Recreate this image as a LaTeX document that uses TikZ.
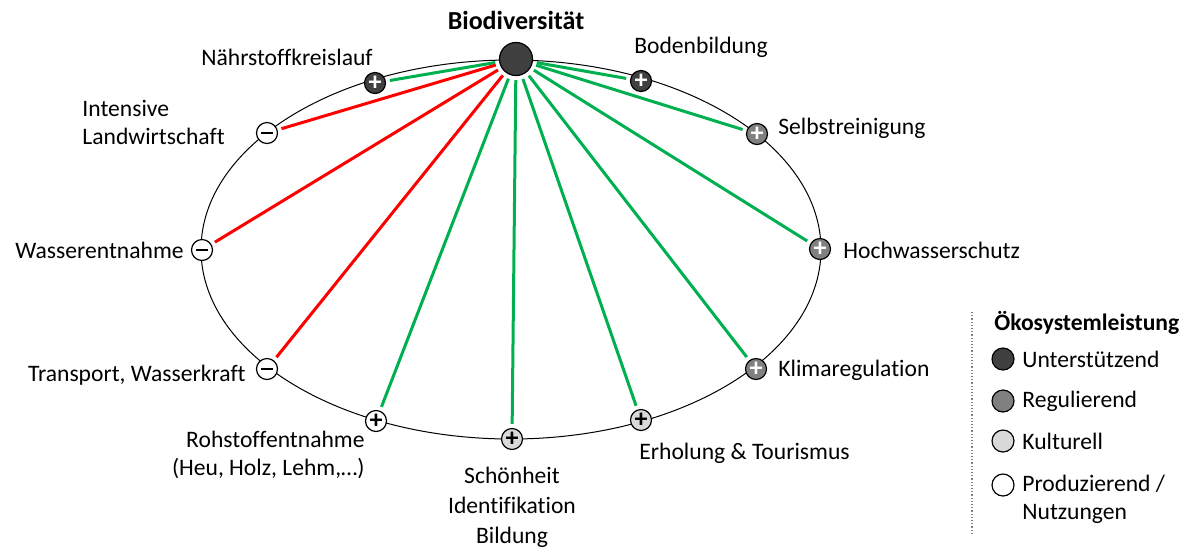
\documentclass[tikz,border=0pt]{standalone}
\usepackage{fontspec}
\setmainfont{Carlito}[Ligatures=NoCommon]
\begin{document}
\begin{tikzpicture}[x=0.5pt,y=-0.5pt,font=\fontsize{11.8}{14}\selectfont]
%Define all colors here.

\definecolor{supfill}{RGB}{64,64,64}
\definecolor{regfill}{RGB}{128,128,128}
\definecolor{kulfill}{RGB}{217,217,217}
\definecolor{profill}{RGB}{255,255,255}
\definecolor{posdraw}{RGB}{0,176,80}
\definecolor{negdraw}{RGB}{255,0,0}

\tikzset{
  svc/.style={circle, draw=black, line width=0.6pt, minimum size=10.5pt, inner sep=0pt, font=\fontsize{13}{13}\selectfont\bfseries},
  key/.style={circle, draw=black, line width=0.6pt, minimum size=11pt, inner sep=0pt},
  lbl/.style={inner sep=0pt},
  posedge/.style={draw=posdraw, line width=1.5pt, shorten <=2pt, shorten >=2pt},
  negedge/.style={draw=negdraw, line width=1.5pt, shorten <=2pt, shorten >=2pt}
}
\newcommand{\minusbar}{\rule{5.8pt}{1.4pt}}

\useasboundingbox (0,0) rectangle (1188,548);

\draw[line width=0.5pt] (511,249.5) ellipse [x radius=155pt, y radius=94.75pt];

\node(bio) at (516,59) [circle, draw=black, line width=0.6pt, fill=supfill, minimum size=16.5pt, inner sep=0pt] {};
\node(biolabel) at (516,20) [lbl, font=\fontsize{13}{14}\selectfont\bfseries] {Biodiversität};

\node(naehr) at (375,83) [svc, fill=supfill, text=white] {+};
\node(boden) at (641,81) [svc, fill=supfill, text=white] {+};
\node(intensiv) at (267,133) [svc, fill=profill] {\minusbar};
\node(selbst) at (757,134) [svc, fill=regfill, text=white] {+};
\node(wasser) at (202,250) [svc, fill=profill] {\minusbar};
\node(hochw) at (820,249) [svc, fill=regfill, text=white] {+};
\node(transp) at (267,369) [svc, fill=profill] {\minusbar};
\node(klima) at (756,369) [svc, fill=regfill, text=white] {+};
\node(rohst) at (376,421) [svc, fill=profill] {+};
\node(schoen) at (512,439) [svc, fill=kulfill] {+};
\node(erhol) at (641,420) [svc, fill=kulfill] {+};

\node(naehrlabel) at (287,57) [lbl] {Nährstoffkreislauf};
\node(bodenlabel) at (701,47) [lbl] {Bodenbildung};
\node(intensivlabel) at (82,122) [lbl, anchor=west, align=left] {Intensive\\Landwirtschaft};
\node(selbstlabel) at (778,128) [lbl, anchor=west] {Selbstreinigung};
\node(wasserlabel) at (184,250) [lbl, anchor=east] {Wasserentnahme};
\node(hochwlabel) at (843,250) [lbl, anchor=west] {Hochwasserschutz};
\node(transplabel) at (246,375) [lbl, anchor=east] {Transport, Wasserkraft};
\node(klimalabel) at (778,370) [lbl, anchor=west] {Klimaregulation};
\node(rohstlabel) at (365,455) [lbl, anchor=east, align=right] {Rohstoffentnahme\\(Heu, Holz, Lehm,…)};
\node(schoenlabel) at (512,507) [lbl, align=center, font=\fontsize{11.8}{15}\selectfont] {Schönheit\\Identifikation\\Bildung};
\node(erhollabel) at (639,453) [lbl, anchor=west] {Erholung \& Tourismus};

\draw[posedge] (bio) edge (naehr);
\draw[posedge] (bio) edge (boden);
\draw[negedge] (bio) edge (intensiv);
\draw[posedge] (bio) edge (selbst);
\draw[negedge] (bio) edge (wasser);
\draw[posedge] (bio) edge (hochw);
\draw[negedge] (bio) edge (transp);
\draw[posedge] (bio) edge (klima);
\draw[posedge] (bio) edge (rohst);
\draw[posedge] (bio) edge (schoen);
\draw[posedge] (bio) edge (erhol);

% legend
\coordinate(sepa) at (972,312);
\coordinate(sepb) at (972,535);
\draw[densely dotted, draw=gray, line width=0.6pt] (sepa) -- (sepb);
\node(keytitle) at (994,323) [lbl, anchor=west, font=\fontsize{11.8}{14}\selectfont\bfseries] {Ökosystemleistung};
\node(keysup) at (1003,359) [key, fill=supfill] {};
\node(keyreg) at (1003,401) [key, fill=regfill] {};
\node(keykul) at (1003,441) [key, fill=kulfill] {};
\node(keypro) at (1003,485) [key, fill=profill] {};
\node(keysuplabel) at (1022,359) [lbl, anchor=west] {Unterstützend};
\node(keyreglabel) at (1022,401) [lbl, anchor=west] {Regulierend};
\node(keykullabel) at (1022,441) [lbl, anchor=west] {Kulturell};
\node(keyprolabel) at (1022,499) [lbl, anchor=west, align=left] {Produzierend /\\Nutzungen};
\end{tikzpicture}
\end{document}
